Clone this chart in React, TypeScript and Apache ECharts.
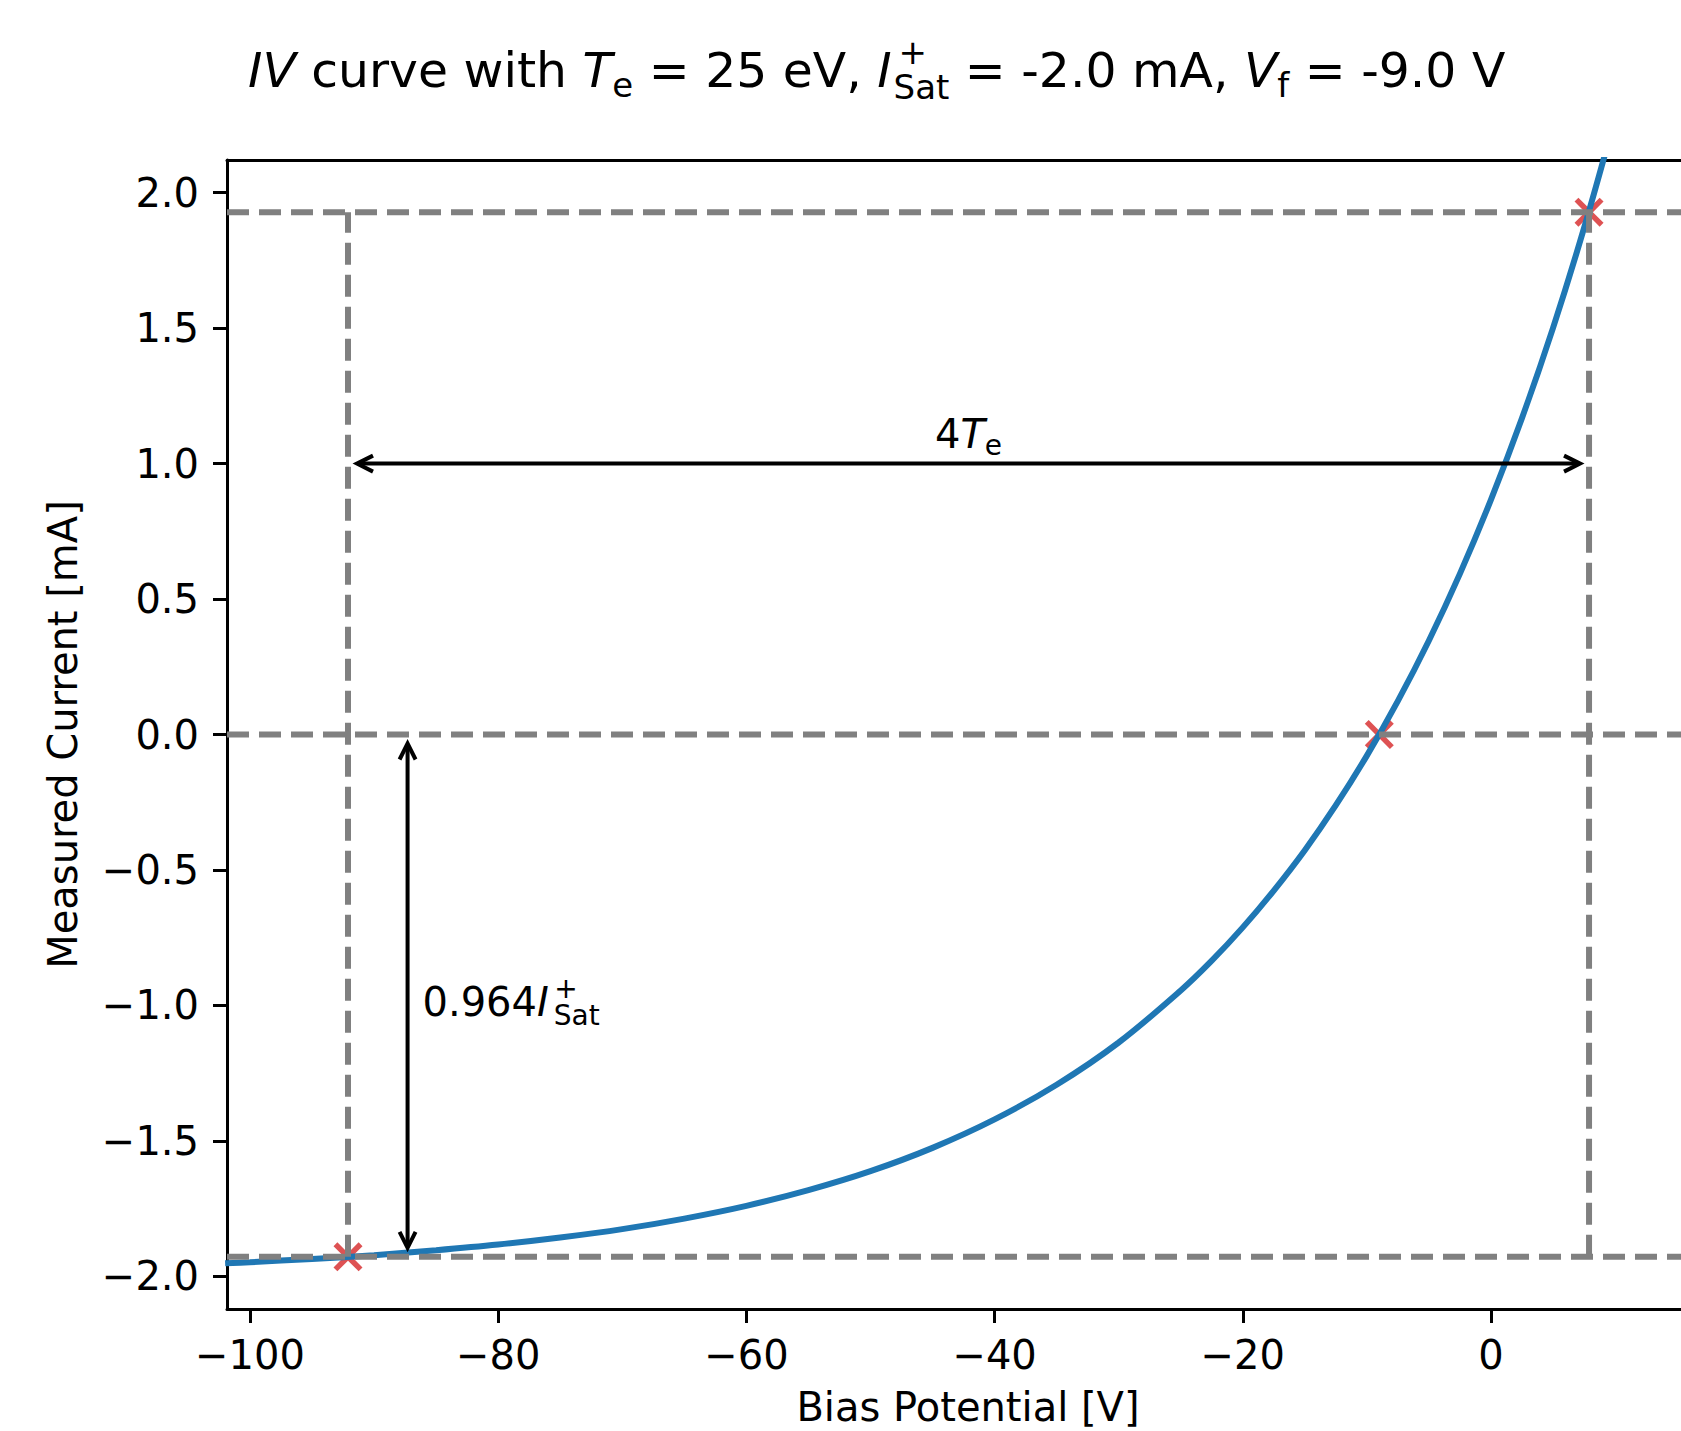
import React, { useEffect, useRef } from 'react';
import * as echarts from 'echarts';

const W = 1681;
const H = 1431;
const FONT = 'DejaVu Sans';

// ---- data ----
const curveV = [-102, -100, -95, -90, -85, -80, -75, -70, -65, -60, -55, -50, -45, -40, -35, -30, -25, -22.5, -20, -17.5, -15, -12.5, -10, -7.5, -5, -2.5, 0, 2.5, 5, 7.5, 10];
const curveI = [-1.952, -1.948, -1.936, -1.922, -1.904, -1.883, -1.857, -1.826, -1.787, -1.74, -1.682, -1.612, -1.526, -1.421, -1.293, -1.137, -0.945, -0.835, -0.712, -0.576, -0.427, -0.261, -0.078, 0.124, 0.347, 0.594, 0.867, 1.168, 1.501, 1.87, 2.277];
const markerV = [-92.1, -9.0, 7.9];
const markerI = [-1.928, 0.0, 1.928];
const hLineI = [1.928, 0.0, -1.928];
const vLineV = [-92.1, 7.9];
const vLineSpan = [-1.928, 1.928];
const arrowStart = [[-92.1, 1.0], [-87.3, 0.0]];
const arrowEnd = [[7.9, 1.0], [-87.3, -1.928]];
const annotationPos = [[-42.1, 1.0], [-86.1, -0.964]];
const annotationText = ['4{it|T}{sub|e}', '0.964{it|I}{sup|\u2009+}{subs|Sat}'];
const xTicks = [-100, -80, -60, -40, -20, 0];
const yTicks = [-2.0, -1.5, -1.0, -0.5, 0.0, 0.5, 1.0, 1.5, 2.0];
const xLim = [-101.85, 15.31];
const yLim = [-2.1208, 2.1208];
const titleText = '{it|IV} curve with {it|T}{sub|e} = 25 eV, {it|I}{sup|\u2009+}{subs|Sat} = -2.0 mA, {it|V}{sub|f} = -9.0 V';
const xName = 'Bias Potential [V]';
const yName = 'Measured Current [mA]';

const GRID = { left: 227, top: 160, right: 0, bottom: 122 };

const richFor = (base: number, supRaise: number, subsLeft: number) => {
  const s = Math.round(base * 0.7);
  const k = base / 40;
  return {
    it: { fontSize: base, fontFamily: FONT, fontStyle: 'italic', fill: '#000', color: '#000' },
    sub: { fontSize: s, fontFamily: FONT, fill: '#000', color: '#000', padding: [Math.round(23 * k), 0, 0, 0] },
    subs: { fontSize: s, fontFamily: FONT, fill: '#000', color: '#000', padding: [Math.round(27 * k), 0, 0, subsLeft] },
    sup: { fontSize: s, fontFamily: FONT, fill: '#000', color: '#000', width: 0, align: 'left', padding: [0, 0, supRaise, 0] },
  };
};

const xSymbol = 'path://M3.2,0 L12,8.8 L20.8,0 L24,3.2 L15.2,12 L24,20.8 L20.8,24 L12,15.2 L3.2,24 L0,20.8 L8.8,12 L0,3.2 Z';

const minusFmt = (s: string) => s.replace('-', '\u2212');

export default function App() {
  const ref = useRef<HTMLDivElement>(null);
  useEffect(() => {
    if (!ref.current) return;
    const chart = echarts.init(ref.current, undefined, { renderer: 'svg' });

    const dashStyle = { color: '#808080', width: 6, type: [22, 10] as any };
    const dashSeries: any[] = [];
    hLineI.forEach((y, i) => {
      dashSeries.push({
        type: 'line', name: 'h' + i, data: [[xLim[0], y], [xLim[1], y]], symbol: 'none',
        lineStyle: dashStyle, z: 4, silent: true,
      });
    });
    vLineV.forEach((v, i) => {
      dashSeries.push({
        type: 'line', name: 'v' + i, data: [[v, vLineSpan[0]], [v, vLineSpan[1]]], symbol: 'none',
        lineStyle: dashStyle, z: 4, silent: true,
      });
    });

    const textOffsets = [
      { dy: -30, align: 'center' },
      { dy: 6, align: 'left' },
    ];

    const axisCommon = {
      type: 'value',
      axisLine: { show: true, onZero: false, lineStyle: { color: '#000', width: 3 } },
      splitLine: { show: false },
    };

    const option: any = {
      animation: false,
      backgroundColor: '#fff',
      textStyle: { fontFamily: FONT },
      grid: { ...GRID, containLabel: false, outerBoundsMode: 'none' },
      xAxis: [
        {
          ...axisCommon,
          min: xLim[0], max: xLim[1], position: 'bottom',
          axisTick: { show: true, inside: false, length: 14, lineStyle: { color: '#000', width: 3 }, customValues: xTicks },
          axisLabel: { show: true, margin: 26, fontSize: 40, fontFamily: FONT, color: '#000', customValues: xTicks, formatter: (v: number) => minusFmt(String(v)) },
        },
        {
          ...axisCommon,
          min: xLim[0], max: xLim[1], position: 'top',
          axisTick: { show: false }, axisLabel: { show: false },
        },
      ],
      yAxis: {
        ...axisCommon,
        min: yLim[0], max: yLim[1],
        axisTick: { show: true, inside: false, length: 14, lineStyle: { color: '#000', width: 3 }, customValues: yTicks },
        axisLabel: { show: true, margin: 28, fontSize: 40, fontFamily: FONT, color: '#000', customValues: yTicks, formatter: (v: number) => minusFmt(v.toFixed(1)) },
      },
      graphic: [
        {
          type: 'text', x: 248, y: 70.5, z: 10,
          style: {
            text: titleText, fontSize: 48.8, fontFamily: FONT, fill: '#000',
            align: 'left', textAlign: 'left', verticalAlign: 'middle', textVerticalAlign: 'middle',
            rich: richFor(48.8, 38, 2),
          },
        },
        {
          type: 'text', x: 968, y: 1407, z: 10,
          style: { text: xName, fontSize: 40, fontFamily: FONT, fill: '#000', align: 'center', textAlign: 'center', verticalAlign: 'middle', textVerticalAlign: 'middle' },
        },
        {
          type: 'text', x: 63, y: 734.5, rotation: Math.PI / 2, z: 10,
          style: { text: yName, fontSize: 40, fontFamily: FONT, fill: '#000', align: 'center', textAlign: 'center', verticalAlign: 'middle', textVerticalAlign: 'middle' },
        },
      ],
      series: [
        {
          type: 'scatter', name: 'points', data: markerV.map((v, i) => [v, markerI[i]]),
          symbol: xSymbol, symbolSize: 29, itemStyle: { color: '#d62728' }, z: 1, silent: true,
        },
        {
          type: 'line', name: 'IV', data: curveV.map((v, i) => [v, curveI[i]]),
          showSymbol: false, symbol: 'none', smooth: 0.35, clip: true,
          lineStyle: { color: '#1f77b4', width: 6 }, z: 2, silent: true,
        },
        ...dashSeries,
        {
          type: 'custom', name: 'arrows', z: 5, silent: true,
          data: arrowStart.map((s, i) => [s[0], s[1], arrowEnd[i][0], arrowEnd[i][1]]),
          renderItem: (params: any, api: any) => {
            const p1 = api.coord([api.value(0), api.value(1)]);
            const p2 = api.coord([api.value(2), api.value(3)]);
            const dx = p2[0] - p1[0];
            const dy = p2[1] - p1[1];
            const len = Math.hypot(dx, dy);
            const ux = dx / len;
            const uy = dy / len;
            const shrink = 9;
            const a = [p1[0] + ux * shrink, p1[1] + uy * shrink];
            const b = [p2[0] - ux * shrink, p2[1] - uy * shrink];
            const hl = 16;
            const hw = 8;
            const head = (t: number[], ex: number, ey: number) => [
              [t[0] + ex * hl - ey * hw, t[1] + ey * hl + ex * hw],
              [t[0], t[1]],
              [t[0] + ex * hl + ey * hw, t[1] + ey * hl - ex * hw],
            ];
            const st = { stroke: '#000', lineWidth: 4, fill: 'none', lineJoin: 'miter', lineCap: 'butt' };
            return {
              type: 'group',
              children: [
                { type: 'line', shape: { x1: a[0] + ux * 2, y1: a[1] + uy * 2, x2: b[0] - ux * 2, y2: b[1] - uy * 2 }, style: st },
                { type: 'polyline', shape: { points: head(a, ux, uy) }, style: st },
                { type: 'polyline', shape: { points: head(b, -ux, -uy) }, style: st },
              ],
            };
          },
        },
        {
          type: 'custom', name: 'labels', z: 6, silent: true,
          data: annotationPos.map((p, i) => [p[0], p[1], i]),
          renderItem: (params: any, api: any) => {
            const idx = params.dataIndex;
            const pt = api.coord([api.value(0), api.value(1)]);
            const o = textOffsets[idx];
            return {
              type: 'text',
              x: pt[0], y: pt[1] + o.dy,
              style: {
                text: annotationText[idx], fontSize: 40, fontFamily: FONT, fill: '#000',
                align: o.align, textAlign: o.align, verticalAlign: 'middle', textVerticalAlign: 'middle',
                rich: richFor(40, 27, 5),
              },
            };
          },
        },
      ],
    };
    chart.setOption(option);
    return () => chart.dispose();
  }, []);
  return <div ref={ref} style={{ position: 'absolute', left: 0, top: 0, width: W, height: H, background: '#fff' }} />;
}
